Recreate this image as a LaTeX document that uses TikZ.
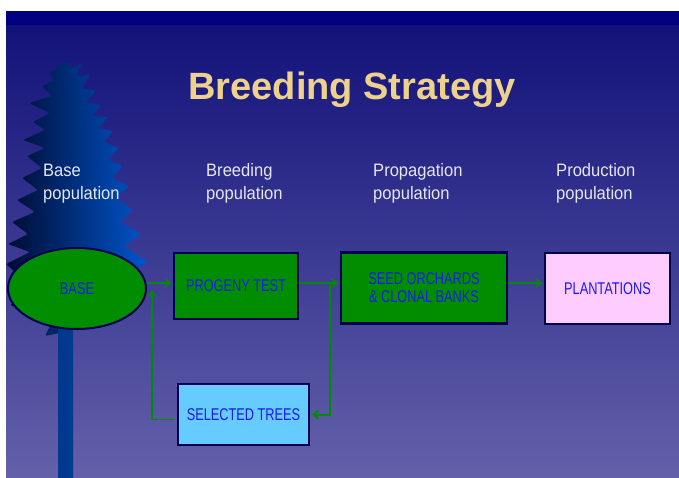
\documentclass[tikz,border=0pt]{standalone}
\usepackage{fontspec}
\setmainfont{Liberation Sans}
\newfontfamily\boxfont{Liberation Sans}[FakeStretch=0.75]
\newfontfamily\lblfont{Liberation Sans}[FakeStretch=0.92]
\usetikzlibrary{arrows.meta,shapes.geometric}
\definecolor{slideband}{RGB}{0,0,128}
\definecolor{slidetop}{RGB}{18,18,122}
\definecolor{slidebot}{RGB}{100,97,170}
\definecolor{titlegold}{RGB}{238,210,140}
\definecolor{labelwhite}{RGB}{230,230,240}
\definecolor{boxline}{RGB}{0,0,80}
\definecolor{boxtext}{RGB}{25,25,240}
\definecolor{nodegreen}{RGB}{0,142,0}
\definecolor{flowgreen}{RGB}{0,140,0}
\definecolor{plantpink}{RGB}{255,204,255}
\definecolor{selblue}{RGB}{102,204,255}
\definecolor{treedark}{RGB}{0,12,50}
\definecolor{treelight}{RGB}{0,85,205}

\begin{document}
\begin{tikzpicture}[x=1pt,y=-1pt,
  box/.style={draw=boxline,line width=2.5pt,rectangle,inner sep=0pt,text=boxtext,
    align=center,font=\boxfont\fontsize{17}{18}\selectfont},
  flow/.style={draw=flowgreen,line width=1.5pt,shorten >=1.5pt,
    -{Straight Barb[length=5pt,width=8pt]}},
  poplabel/.style={anchor=base west,inner sep=0pt,align=left,text=labelwhite,
    font=\lblfont\fontsize{18}{23}\selectfont}]
\useasboundingbox (0,0) rectangle (679,477);
% slide background
 \fill[white] (0,0) rectangle (679,477);
 \shade[top color=slidetop,bottom color=slidebot] (6,25) rectangle (679,477);
 \fill[slideband] (6,11) rectangle (679,25);
% tree
 \shade[left color=treedark,right color=treelight,rounded corners=2pt]
  (63,60)--(72,68)--(82,63)--(76,76)--(90,75)--(82,88)--(96,91)--(86,102)
  --(101,105)--(92,116)--(108,117)--(98,128)--(113,131)--(104,142)--(119,148)
  --(108,160)--(123,166)--(112,178)--(129,186)--(116,198)--(133,210)--(120,222)
  --(141,234)--(124,246)--(148,262)--(128,274)--(120,300)--(73,330)
  --(45,336)--(52,322)--(10,305)--(35,290)--(6,264)--(30,252)--(8,244)
  --(28,234)--(12,222)--(35,212)--(17,200)--(38,190)--(22,178)--(42,168)
  --(27,156)--(45,148)--(23,140)--(45,130)--(33,122)--(50,113)--(29,103)
  --(52,96)--(42,86)--(55,80)--(49,73)--(60,66)--cycle;
 \shade[left color=treedark!40!treelight,right color=treelight!70!black] (58,320) rectangle (73,477);
% title and row labels
 \node[anchor=base,text=titlegold,font=\bfseries\fontsize{38}{40}\selectfont] (title) at (352,99) {Breeding Strategy};
 \node[poplabel] (lblbase) at (43,199) {Base\\population};
 \node[poplabel] (lblbreed) at (206,199) {Breeding\\population};
 \node[poplabel] (lblprop) at (373,199) {Propagation\\population};
 \node[poplabel] (lblprod) at (556,199) {Production\\population};
% populations
 \node[ellipse,draw=boxline,line width=2pt,fill=nodegreen,minimum width=138pt,minimum height=81pt,
   inner sep=0pt,text=boxtext,font=\boxfont\fontsize{17}{18}\selectfont] (base) at (77,288.5) {BASE};
 \node[box,fill=nodegreen,minimum width=124pt,minimum height=66pt] (progeny) at (236,286) {PROGENY TEST};
 \node[box,fill=nodegreen,minimum width=166pt,minimum height=71pt] (seed) at (424,288) {SEED ORCHARDS\\\& CLONAL BANKS};
 \node[box,fill=plantpink,minimum width=125pt,minimum height=71pt] (plant) at (607.5,288.5) {PLANTATIONS};
 \node[box,fill=selblue,minimum width=131pt,minimum height=61pt] (sel) at (243.5,414.5) {SELECTED TREES};
% connectors
 \coordinate (split) at (330,283);
 \coordinate (join) at (152,289);
 \draw[flow] (base.east |- split) -- (progeny.west |- split);
 \draw[flow] (progeny.east |- split) -- (seed.west |- split);
 \draw[flow] (seed.east |- split) -- (plant.west |- split);
 \draw[flow,line width=2pt] (split) |- (sel.east);
 \draw[flow,shorten <=2pt] ([yshift=-5pt]sel.west) -| (join);
\end{tikzpicture}
\end{document}
